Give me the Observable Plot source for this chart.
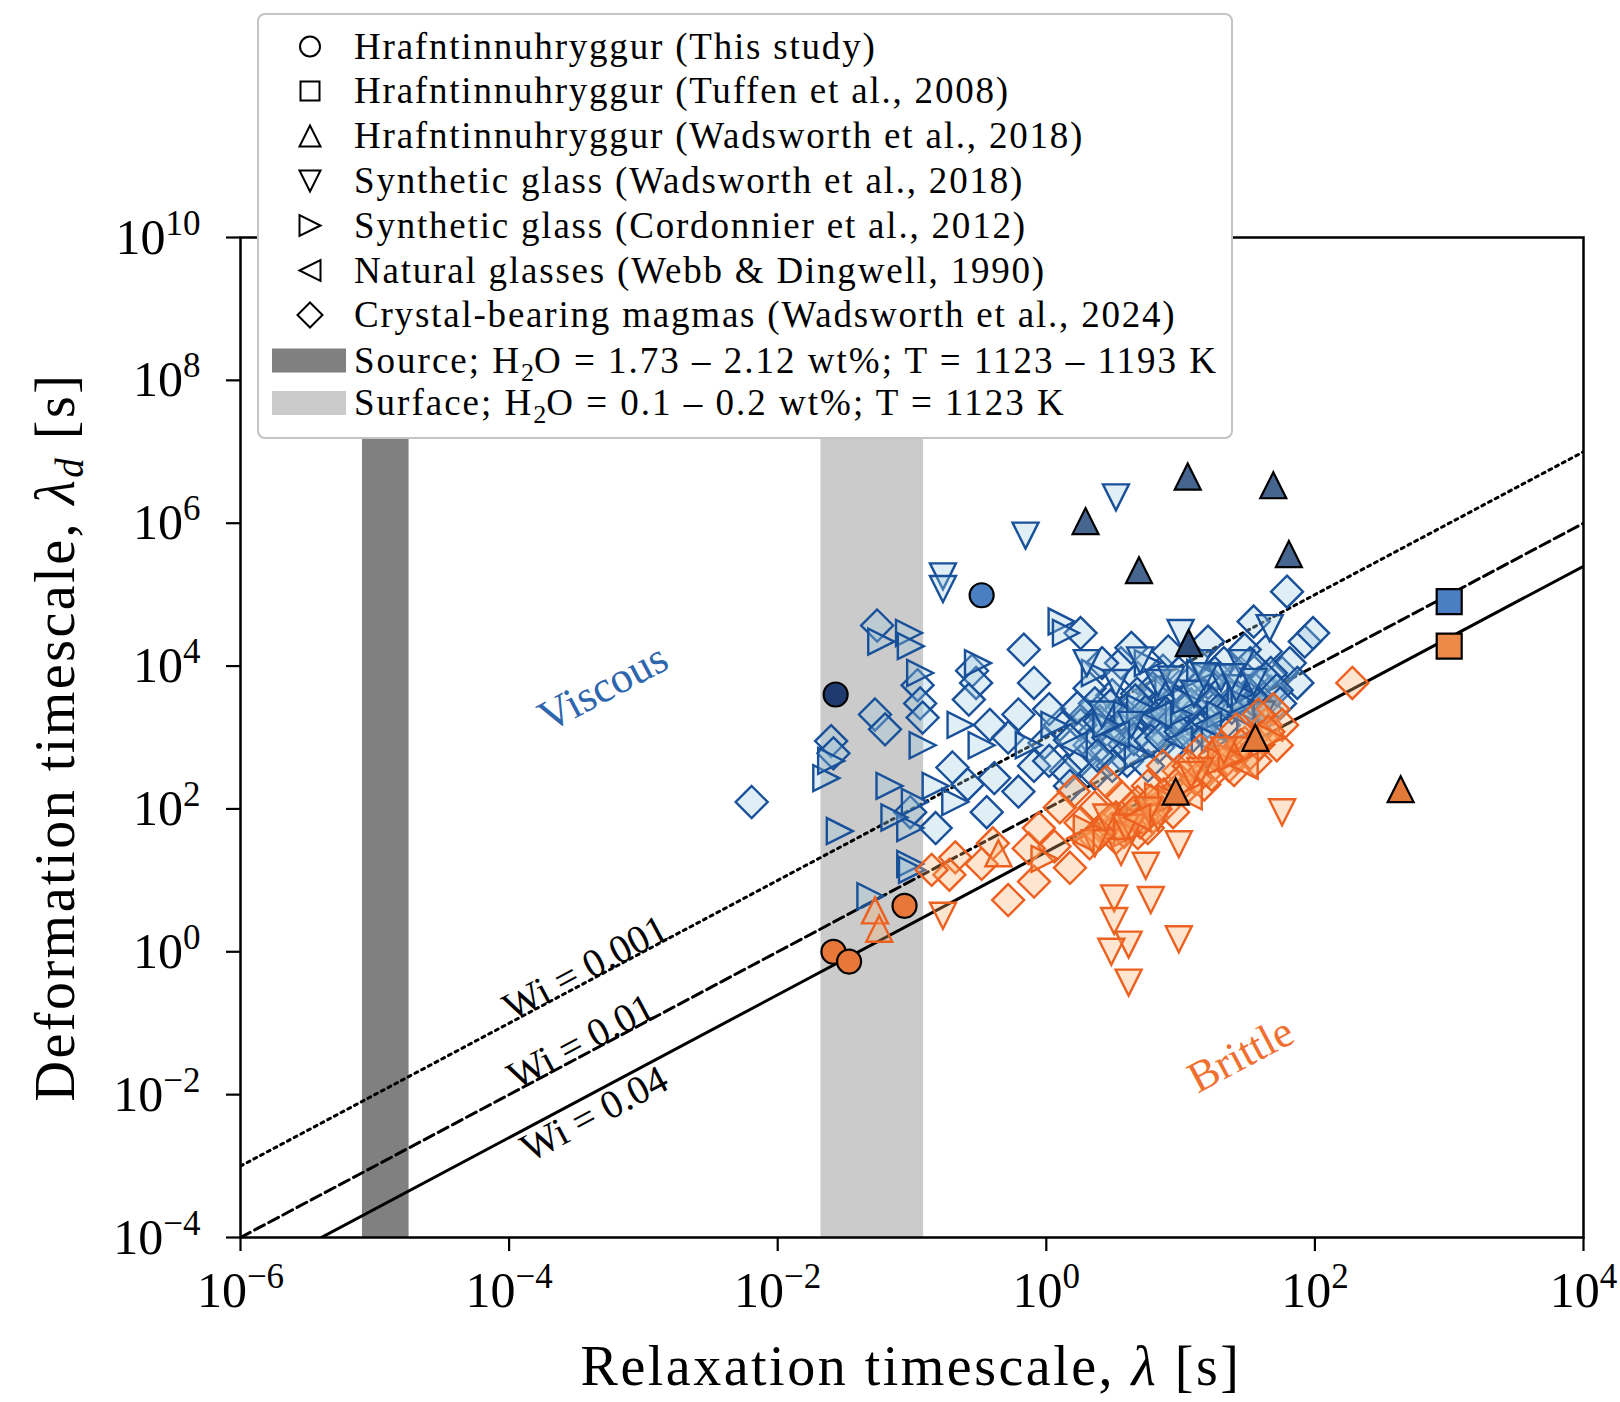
<!DOCTYPE html>
<html><head><meta charset="utf-8">
<script src="https://cdn.jsdelivr.net/npm/d3@7"></script>
<script src="https://cdn.jsdelivr.net/npm/@observablehq/plot@0.6"></script>
<style>html,body{margin:0;padding:0;background:#fff;} svg{display:block}</style>
</head><body><div id="chart"></div>
<script>
// ---------- axes / reference lines ----------
const xTicks = [1e-6, 1e-4, 1e-2, 1e0, 1e2, 1e4];
const yTicks = [1e-4, 1e-2, 1e0, 1e2, 1e4, 1e6, 1e8, 1e10];
const sourceBand = [8.1e-6, 1.8e-5];
const surfaceBand = [0.021, 0.122];
const wiValues = [0.001, 0.01, 0.04];
const wiLabelLambda = [4.1e-4, 3.8e-4, 3.8e-4];
const lambdaRange = [1e-6, 1e4];
const regimeNames = ["Viscous", "Brittle"];
const regimeLambda = [5.0e-4, 28];
const regimeLambdaD = [5000, 0.036];

// ---------- data: [relaxation timescale λ (s), deformation timescale λd (s)] ----------
// Hrafntinnuhryggur (This study) – circles
const studyNavy = [[0.027, 4000]];
const studySteel = [[0.33, 9.8e4]];
const studyOrange = [[0.026, 1.0], [0.034, 0.73], [0.088, 4.4]];
// Hrafntinnuhryggur (Tuffen et al., 2008) – squares
const tuffenBlue = [[1000, 8.0e4]];
const tuffenOrange = [[1000, 1.9e4]];
// Hrafntinnuhryggur (Wadsworth et al., 2018) – up triangles
const wadsHBlue = [[11.3, 4.5e6], [49, 3.4e6], [1.96, 1.07e6], [4.9, 2.2e5], [64, 3.7e5]];
const wadsHDark = [[11.5, 2.1e4]];
const wadsHOrange = [[435, 189], [9.2, 175], [36, 990]];
const wadsHOpenOrange = [[0.44, 24], [0.053, 3.8], [0.057, 2.1]];
// Synthetic glass (Wadsworth et al., 2018) – down triangles
const synthWBlue = [[3.3, 2.3e6], [0.70, 6.7e5], [0.17, 1.8e5], [0.17, 1.2e5], [10, 2.9e4], [46, 3.4e4],
  [5.0, 1.2e4], [13.7, 1.1e4], [20, 6800], [3.3, 5800], [40, 2100], [2.0, 1.1e4], [26, 4900], [2.6, 2100],
  [12.6, 4100], [6.8, 5800], [28, 1.1e4], [4.3, 1500], [8.5, 6500], [15, 7200], [24, 7000], [35, 6000]];
const synthWOrange = [[3.2, 5.6], [6.0, 5.3], [5.5, 16], [3.2, 2.7], [4.1, 1.26], [3.05, 1.0], [4.1, 0.37],
  [9.7, 1.5], [57, 90], [0.17, 3.2], [9.7, 32], [3.6, 25], [2.3, 33], [4.3, 54], [2.8, 76], [14, 340],
  [30, 660], [6.8, 76], [21, 660], [3.9, 55], [5.8, 95], [12, 300]];
// Synthetic glass (Cordonnier et al., 2012) – right triangles
const cordBlue = [[0.023, 270], [0.025, 470], [0.029, 49], [0.059, 2.2e4], [0.095, 2.9e4], [0.098, 1.9e4],
  [0.115, 8000], [0.12, 780], [0.105, 125], [0.097, 54], [0.15, 210], [0.049, 6.0], [1.3, 4.2e4], [1.4, 2.9e4],
  [0.31, 1.1e4], [0.33, 780], [0.74, 780], [1.15, 1500], [4.0, 2100], [5.7, 1.1e4], [14, 8000], [28, 4100],
  [2.3, 8000], [0.23, 1500], [0.068, 210], [0.074, 76], [0.21, 125], [0.097, 17], [0.1, 14], [9.7, 2100],
  [18, 920], [33, 1500], [4.8, 560], [2.8, 1500], [19.6, 2100], [8.1, 4900], [11, 3300], [5.0, 2600], [30, 3000]];
const cordOrange = [[6.8, 150], [20, 470], [47, 1000], [2.0, 54], [4.0, 46], [0.97, 20], [8.5, 140], [24, 520]];
// Natural glasses (Webb & Dingwell, 1990) – left triangles
const naturalBlue = [[6.8, 2100], [16, 1500], [28, 2100], [3.3, 1100], [9.7, 920], [1.6, 780]];
const naturalOrange = [[4.75, 76], [11.5, 150], [30, 400], [1.8, 39]];
// Crystal-bearing magmas (Wadsworth et al., 2024) – diamonds
const crystalBlue = [[0.0064, 125], [0.025, 890], [0.026, 600], [0.055, 3.7e4], [0.053, 2100], [0.063, 1300],
  [0.11, 5400], [0.115, 3000], [0.12, 1900], [0.28, 8600], [0.30, 5800], [0.265, 3400], [0.68, 1.7e4],
  [1.8, 2.9e4], [0.81, 5800], [0.62, 2100], [0.38, 1500], [0.52, 1000], [0.20, 380], [0.26, 220], [0.41, 270],
  [0.97, 840], [1.26, 1500], [2.0, 2100], [3.1, 3900], [3.6, 1.1e4], [4.8, 6800], [7.4, 8600], [11.5, 5800],
  [16, 2.2e4], [21, 1.1e4], [28, 8000], [35, 4.2e4], [62, 1.1e5], [84, 2.2e4], [97, 2.9e4], [43, 1.6e4],
  [38, 5800], [47, 4400], [57, 8000], [23, 3000], [14, 2100], [8.1, 1500], [4.8, 1100], [2.8, 660], [1.8, 470],
  [1.4, 340], [2.3, 1200], [5.7, 3000], [9.7, 3900], [18, 8000], [30, 1.7e4], [11.5, 1500], [6.8, 730],
  [0.15, 54], [0.097, 90], [0.81, 400], [0.62, 175], [0.36, 90], [1.05, 2500], [2.1, 4900], [2.6, 1.1e4],
  [4.3, 1.8e4], [8.1, 1.6e4], [6.2, 4900], [15, 3500], [33, 3500], [21, 1500], [8.8, 780], [4.0, 470],
  [2.3, 310], [1.5, 210], [65, 1.1e4], [74, 5800], [47, 8000], [1.8, 1500], [3.3, 2100], [5.2, 2100],
  [7.4, 3000], [10.5, 2500], [16, 5800], [21, 4900], [33, 1.1e4], [43, 6800], [14, 1300], [6.8, 1300],
  [3.6, 1300], [2.1, 780], [3.1, 400], [5.7, 400], [1.5, 920], [1.05, 470], [9.7, 8000], [4.75, 4100], [2.3, 3000],
  [1.7, 2600], [2.5, 1700], [3.0, 2800], [3.9, 1800], [4.6, 3300], [5.5, 2300], [6.5, 1900], [7.8, 2200],
  [9.0, 1800], [12, 2900], [13, 4800], [17, 3100], [19, 2400], [24, 2600], [27, 3600], [31, 2600], [36, 3100],
  [42, 3000], [45, 2300], [52, 4600], [55, 3000], [3.8, 800], [4.5, 950], [6.0, 900], [7.2, 1000], [10, 1200],
  [12, 1000], [16, 1100], [2.9, 1000], [2.4, 560]];
const crystalOrange = [[190, 5800], [0.52, 5.3], [0.81, 9.6], [1.5, 15], [1.15, 30], [0.74, 28], [0.21, 21],
  [0.19, 12], [2.3, 39], [3.1, 54], [4.0, 71], [4.8, 46], [6.2, 76], [8.1, 125], [11.5, 210], [16, 340],
  [23, 400], [26, 560], [36, 470], [30, 840], [43, 1500], [49, 2500], [38, 2100], [20, 730], [9.7, 340],
  [5.7, 210], [3.6, 150], [2.3, 105], [1.8, 64], [1.6, 175], [2.8, 240], [7.4, 400], [0.33, 17], [0.40, 33],
  [0.88, 54], [1.26, 105], [14, 660], [26, 1300], [3.3, 76], [4.3, 105], [2.6, 54], [5.2, 76], [11.5, 400],
  [18, 560], [28, 780], [40, 1000], [4.8, 125], [3.3, 39], [2.1, 33], [5.7, 54], [8.8, 90], [15, 220],
  [57, 1500], [52, 780], [0.14, 14], [3.5, 60], [4.2, 60], [3.8, 48], [4.5, 90], [5.0, 65], [6.5, 100],
  [7.5, 160], [9.5, 190], [13, 260], [17, 300], [22, 480], [25, 350], [33, 600], [38, 800], [45, 1200],
  [3.0, 70], [2.5, 45], [6.0, 130], [10, 250]];

// ---------- legend text ----------
const legendLabels = ["Hrafntinnuhryggur (This study)", "Hrafntinnuhryggur (Tuffen et al., 2008)",
  "Hrafntinnuhryggur (Wadsworth et al., 2018)", "Synthetic glass (Wadsworth et al., 2018)",
  "Synthetic glass (Cordonnier et al., 2012)", "Natural glasses (Webb & Dingwell, 1990)",
  "Crystal-bearing magmas (Wadsworth et al., 2024)"];
const bandLabels = [["Source; H", "2", "O = 1.73 – 2.12 wt%; T = 1123 – 1193 K"],
  ["Surface; H", "2", "O = 0.1 – 0.2 wt%; T = 1123 K"]];

// ---------- symbols ----------
const rad = s => Math.sqrt(s / Math.PI);
const circleSym = {draw(c, s) { const r = rad(s); c.moveTo(r, 0); c.arc(0, 0, r, 0, 2 * Math.PI); c.closePath(); }};
const squareSym = {draw(c, s) { const r = rad(s); c.moveTo(-r, -r); c.lineTo(r, -r); c.lineTo(r, r); c.lineTo(-r, r); c.closePath(); }};
const triUp = {draw(c, s) { const r = rad(s); c.moveTo(0, -r); c.lineTo(r, r); c.lineTo(-r, r); c.closePath(); }};
const triDown = {draw(c, s) { const r = rad(s); c.moveTo(0, r); c.lineTo(r, -r); c.lineTo(-r, -r); c.closePath(); }};
const triRight = {draw(c, s) { const r = rad(s); c.moveTo(r, 0); c.lineTo(-r, r); c.lineTo(-r, -r); c.closePath(); }};
const triLeft = {draw(c, s) { const r = rad(s); c.moveTo(-r, 0); c.lineTo(r, -r); c.lineTo(r, r); c.closePath(); }};
const diamondSym = {draw(c, s) { const r = rad(s); c.moveTo(0, -r); c.lineTo(r, 0); c.lineTo(0, r); c.lineTo(-r, 0); c.closePath(); }};
const legendSymbols = [circleSym, squareSym, triUp, triDown, triRight, triLeft, diamondSym];
const legendR = [10, 9.5, 10.5, 10.5, 10.5, 10.5, 12.5];

const blueEdge = "#18509a", blueFill = "#9ecae1";
const orangeEdge = "#ec6020", orangeFill = "#fdae6b";

function openDots(data, symbol, r, regime) {
  return Plot.dot(data, {x: d => d[0], y: d => d[1], symbol, r,
    stroke: regime === "b" ? blueEdge : orangeEdge, strokeWidth: 2.4,
    fill: regime === "b" ? blueFill : orangeFill, fillOpacity: 0.32});
}
function filledDots(data, symbol, r, fill) {
  return Plot.dot(data, {x: d => d[0], y: d => d[1], symbol, r, stroke: "black", strokeWidth: 2.2, fill});
}
const pow = d => "10^" + String(Math.round(Math.log10(d))).replace("-", "−");
const dashes = ["3,4.6", "11,5", null];

const chart = Plot.plot({
  width: 1620, height: 1402,
  marginLeft: 240, marginRight: 37, marginTop: 237, marginBottom: 165,
  style: {fontFamily: "'Liberation Serif', 'DejaVu Serif', serif", fontSize: "50px", background: "white", color: "black"},
  x: {type: "log", domain: [1e-6, 1e4]},
  y: {type: "log", domain: [1e-4, 1e10]},
  marks: [
    Plot.rect([sourceBand], {x1: d => d[0], x2: d => d[1], y1: 1e-4, y2: 1e10, fill: "#808080"}),
    Plot.rect([surfaceBand], {x1: d => d[0], x2: d => d[1], y1: 1e-4, y2: 1e10, fill: "#cbcbcb"}),
    ...wiValues.map((wi, i) => Plot.line(lambdaRange, {x: d => d, y: d => d / wi, stroke: "black",
      strokeWidth: 3, strokeDasharray: dashes[i], clip: true})),
    Plot.text([0, 1], {x: i => wiLabelLambda[i], y: i => wiLabelLambda[i] / wiValues[i], text: i => "Wi = " + wiValues[i],
      rotate: -28, lineAnchor: "bottom", fontSize: 40, fill: "black"}),
    Plot.text([2], {x: i => wiLabelLambda[i], y: i => wiLabelLambda[i] / wiValues[i], text: i => "Wi = " + wiValues[i],
      rotate: -28, lineAnchor: "top", fontSize: 40, fill: "black", dy: 4}),
    openDots(crystalBlue, diamondSym, 16, "b"),
    openDots(cordBlue, triRight, 13, "b"),
    openDots(synthWBlue, triDown, 13, "b"),
    openDots(naturalBlue, triLeft, 13, "b"),
    openDots(crystalOrange, diamondSym, 16, "o"),
    openDots(cordOrange, triRight, 13, "o"),
    openDots(synthWOrange, triDown, 13, "o"),
    openDots(naturalOrange, triLeft, 13, "o"),
    openDots(wadsHOpenOrange, triUp, 13, "o"),
    filledDots(wadsHBlue, triUp, 13, "#46658f"),
    filledDots(wadsHDark, triUp, 13, "#2c4a78"),
    filledDots(wadsHOrange, triUp, 13, "#e47a3a"),
    filledDots(studyNavy, circleSym, 12, "#1e3a6e"),
    filledDots(studySteel, circleSym, 12, "#4a80c2"),
    filledDots(studyOrange, circleSym, 12, "#e8773a"),
    filledDots(tuffenBlue, squareSym, 12.5, "#4a7fc4"),
    filledDots(tuffenOrange, squareSym, 12.5, "#ee8a48"),
    Plot.text([0], {x: i => regimeLambda[i], y: i => regimeLambdaD[i], text: i => regimeNames[i], rotate: -28, fontSize: 44, fill: "#2e66ad"}),
    Plot.text([1], {x: i => regimeLambda[i], y: i => regimeLambdaD[i], text: i => regimeNames[i], rotate: -28, fontSize: 44, fill: "#f07030"}),
    Plot.frame({stroke: "black", strokeWidth: 2.5}),
    Plot.axisX({ticks: xTicks, tickFormat: pow, tickSize: 14, tickPadding: 20, strokeWidth: 2.2, fontSize: 50, label: null}),
    Plot.axisY({ticks: yTicks, tickFormat: pow, tickSize: 14, tickPadding: 26, strokeWidth: 2.2, fontSize: 50, label: null})
  ]
});
document.getElementById("chart").appendChild(chart);

// superscripts for tick labels
chart.querySelectorAll("text").forEach(t => {
  const s = t.textContent;
  if (s.startsWith("10^")) {
    const e = s.slice(3);
    t.textContent = "10";
    const sp = document.createElementNS("http://www.w3.org/2000/svg", "tspan");
    sp.setAttribute("font-size", "35px");
    sp.setAttribute("dy", "-19px");
    sp.textContent = e;
    t.appendChild(sp);
  }
});

const svg = d3.select(chart);
// axis titles
const xt = svg.append("text").attr("x", 911).attr("y", 1385).attr("text-anchor", "middle")
  .attr("font-size", 56).attr("letter-spacing", "2.5px").attr("fill", "black");
xt.append("tspan").text("Relaxation timescale, ");
xt.append("tspan").attr("font-style", "italic").text("λ");
xt.append("tspan").text(" [s]");
const yt = svg.append("text").attr("transform", "translate(74,737) rotate(-90)").attr("text-anchor", "middle")
  .attr("font-size", 56).attr("letter-spacing", "2.5px").attr("fill", "black");
yt.append("tspan").text("Deformation timescale, ");
yt.append("tspan").attr("font-style", "italic").text("λ");
yt.append("tspan").attr("font-style", "italic").attr("font-size", 39).attr("dy", 9).text("d");
yt.append("tspan").attr("dy", -9).text(" [s]");

// legend
const lg = svg.append("g").attr("text-anchor", "start");
lg.append("rect").attr("x", 258).attr("y", 14).attr("width", 974).attr("height", 424).attr("rx", 7)
  .attr("fill", "white").attr("stroke", "#c4c4c4").attr("stroke-width", 2);
const rowY = [46.5, 91, 136, 181, 225.5, 270.5, 315, 360.5, 403];
legendLabels.forEach((lab, i) => {
  lg.append("path").attr("transform", `translate(310,${rowY[i]})`)
    .attr("d", d3.symbol().type(legendSymbols[i]).size(legendR[i] * legendR[i] * Math.PI)())
    .attr("fill", "none").attr("stroke", "black").attr("stroke-width", 2);
  lg.append("text").attr("x", 354).attr("y", rowY[i] + 12).attr("font-size", 37).attr("letter-spacing", "1.8px")
    .attr("text-anchor", "start").attr("fill", "black").text(lab);
});
bandLabels.forEach((parts, j) => {
  const y = rowY[7 + j];
  lg.append("rect").attr("x", 272).attr("y", y - 12).attr("width", 74).attr("height", 24)
    .attr("fill", j === 0 ? "#808080" : "#cbcbcb");
  const t = lg.append("text").attr("x", 354).attr("y", y + 12).attr("font-size", 37).attr("letter-spacing", "2px")
    .attr("text-anchor", "start").attr("fill", "black");
  t.append("tspan").text(parts[0]);
  t.append("tspan").attr("font-size", 26).attr("dy", 8).attr("letter-spacing", "0px").text(parts[1]);
  t.append("tspan").attr("dy", -8).text(parts[2]);
});
</script>
</body></html>
